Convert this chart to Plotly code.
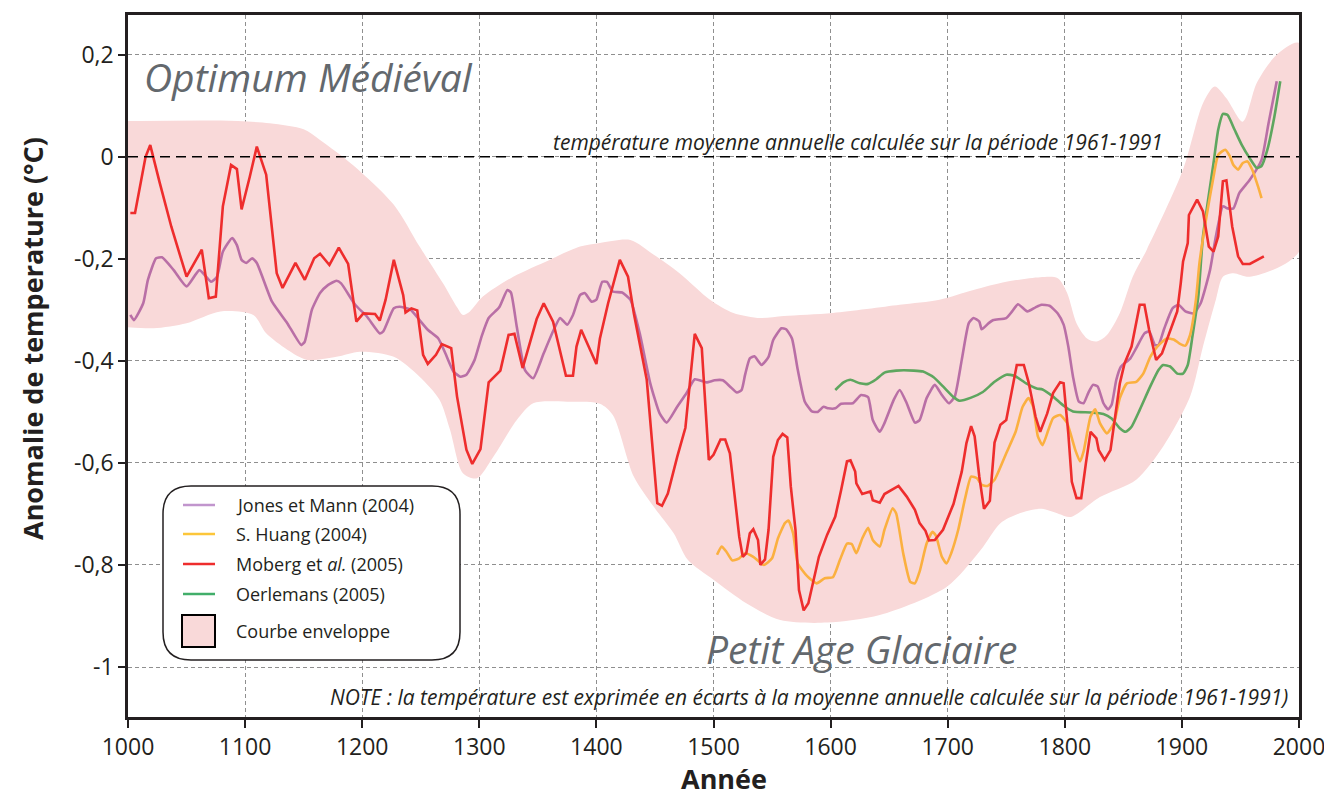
import plotly.graph_objects as go

# Moberg et al. (2005)
moberg_years = [1002, 1006, 1015, 1019, 1027, 1037, 1050, 1063, 1069, 1075, 1081, 1088, 1093, 1097, 1104, 1110,
                1118, 1127, 1132, 1143, 1151, 1159, 1164, 1172, 1180, 1188, 1195, 1201, 1211, 1215, 1220, 1227,
                1235, 1237, 1242, 1247, 1252, 1256, 1263, 1268, 1276, 1281, 1289, 1294, 1301, 1308, 1318, 1325,
                1330, 1337, 1349, 1355, 1363, 1374, 1380, 1383, 1387, 1400, 1403, 1410, 1420, 1427, 1432, 1443,
                1452, 1456, 1461, 1469, 1476, 1480, 1484, 1490, 1496, 1500, 1506, 1510, 1514, 1518, 1522, 1525,
                1528, 1531, 1534, 1538, 1540, 1544, 1547, 1551, 1555, 1559, 1563, 1566, 1570, 1573, 1577, 1581,
                1585, 1590, 1597, 1604, 1609, 1614, 1617, 1621, 1622, 1627, 1634, 1636, 1642, 1646, 1658, 1665,
                1672, 1676, 1681, 1684, 1689, 1696, 1705, 1712, 1716, 1720, 1723, 1727, 1731, 1736, 1740, 1745,
                1750, 1756, 1759, 1765, 1769, 1775, 1779, 1785, 1790, 1796, 1799, 1803, 1806, 1810, 1814, 1818,
                1822, 1827, 1829, 1834, 1839, 1843, 1847, 1851, 1857, 1864, 1868, 1872, 1878, 1883, 1890, 1896,
                1899, 1901, 1905, 1906, 1913, 1918, 1923, 1927, 1931, 1935, 1938, 1943, 1948, 1952, 1958, 1970]
moberg_vals = [-0.11, -0.11, 0.0, 0.023, -0.05, -0.137, -0.235, -0.182, -0.277, -0.274, -0.097, -0.016, -0.024,
               -0.103, -0.039, 0.02, -0.035, -0.228, -0.257, -0.208, -0.241, -0.199, -0.19, -0.212, -0.178, -0.21,
               -0.323, -0.307, -0.308, -0.321, -0.28, -0.202, -0.271, -0.305, -0.297, -0.301, -0.388, -0.406,
               -0.388, -0.367, -0.375, -0.47, -0.574, -0.602, -0.573, -0.442, -0.419, -0.349, -0.347, -0.414,
               -0.318, -0.287, -0.323, -0.429, -0.429, -0.372, -0.339, -0.406, -0.356, -0.287, -0.202, -0.235,
               -0.307, -0.437, -0.679, -0.684, -0.66, -0.588, -0.531, -0.431, -0.347, -0.375, -0.594, -0.584,
               -0.554, -0.554, -0.581, -0.663, -0.745, -0.784, -0.777, -0.738, -0.73, -0.751, -0.8, -0.789,
               -0.731, -0.588, -0.555, -0.543, -0.55, -0.646, -0.731, -0.849, -0.889, -0.875, -0.836, -0.784,
               -0.741, -0.705, -0.653, -0.597, -0.595, -0.617, -0.64, -0.661, -0.656, -0.673, -0.678, -0.661,
               -0.645, -0.666, -0.692, -0.718, -0.733, -0.752, -0.751, -0.731, -0.68, -0.617, -0.561, -0.528,
               -0.548, -0.627, -0.69, -0.674, -0.56, -0.525, -0.516, -0.444, -0.408, -0.408, -0.441, -0.509,
               -0.539, -0.503, -0.463, -0.442, -0.444, -0.542, -0.637, -0.669, -0.669, -0.601, -0.539, -0.552,
               -0.575, -0.594, -0.575, -0.509, -0.444, -0.405, -0.372, -0.29, -0.29, -0.339, -0.398, -0.385,
               -0.342, -0.303, -0.248, -0.205, -0.169, -0.114, -0.084, -0.107, -0.176, -0.186, -0.156, -0.048,
               -0.046, -0.137, -0.195, -0.21, -0.21, -0.195]

# Jones et Mann (2004)
jones_years = [1002, 1005, 1013, 1017, 1024, 1029, 1039, 1050, 1061, 1071, 1076, 1081, 1089, 1093, 1097, 1101,
               1106, 1110, 1123, 1136, 1148, 1151, 1157, 1164, 1171, 1178, 1182, 1194, 1204, 1215, 1218, 1227,
               1232, 1241, 1249, 1256, 1265, 1271, 1278, 1284, 1289, 1296, 1302, 1308, 1317, 1324, 1327, 1332,
               1339, 1346, 1355, 1363, 1369, 1375, 1380, 1386, 1390, 1396, 1400, 1405, 1409, 1414, 1422, 1429,
               1437, 1446, 1454, 1460, 1469, 1477, 1484, 1494, 1501, 1508, 1514, 1520, 1524, 1527, 1531, 1535,
               1541, 1547, 1551, 1558, 1562, 1567, 1572, 1578, 1584, 1589, 1594, 1598, 1604, 1609, 1619, 1626,
               1632, 1636, 1642, 1646, 1654, 1659, 1665, 1672, 1676, 1682, 1689, 1695, 1701, 1706, 1712, 1718,
               1722, 1727, 1729, 1735, 1739, 1750, 1755, 1760, 1768, 1775, 1780, 1787, 1794, 1799, 1803, 1807,
               1812, 1816, 1820, 1824, 1828, 1833, 1837, 1840, 1844, 1848, 1856, 1861, 1868, 1872, 1877, 1880,
               1885, 1892, 1897, 1903, 1910, 1916, 1924, 1929, 1935, 1939, 1944, 1949, 1958, 1968, 1974, 1981]
jones_vals = [-0.31, -0.32, -0.287, -0.241, -0.199, -0.197, -0.222, -0.254, -0.222, -0.245, -0.235, -0.186,
              -0.159, -0.173, -0.202, -0.208, -0.199, -0.208, -0.284, -0.326, -0.369, -0.362, -0.3, -0.267,
              -0.251, -0.243, -0.248, -0.29, -0.313, -0.346, -0.342, -0.297, -0.294, -0.299, -0.32, -0.339,
              -0.356, -0.385, -0.421, -0.431, -0.427, -0.398, -0.352, -0.316, -0.295, -0.261, -0.266, -0.333,
              -0.418, -0.434, -0.385, -0.342, -0.316, -0.329, -0.31, -0.271, -0.267, -0.284, -0.28, -0.245,
              -0.245, -0.264, -0.266, -0.28, -0.346, -0.444, -0.503, -0.521, -0.49, -0.463, -0.436, -0.442,
              -0.438, -0.438, -0.45, -0.462, -0.457, -0.427, -0.395, -0.391, -0.408, -0.392, -0.359, -0.336,
              -0.338, -0.356, -0.418, -0.48, -0.499, -0.5, -0.49, -0.493, -0.493, -0.484, -0.483, -0.467,
              -0.471, -0.516, -0.539, -0.522, -0.476, -0.457, -0.483, -0.521, -0.516, -0.473, -0.447, -0.467,
              -0.483, -0.47, -0.398, -0.326, -0.316, -0.323, -0.338, -0.326, -0.32, -0.316, -0.303, -0.289,
              -0.303, -0.295, -0.29, -0.292, -0.307, -0.329, -0.372, -0.431, -0.48, -0.483, -0.463, -0.447,
              -0.45, -0.483, -0.495, -0.486, -0.437, -0.411, -0.395, -0.375, -0.346, -0.342, -0.369, -0.369,
              -0.336, -0.297, -0.29, -0.303, -0.307, -0.287, -0.222, -0.156, -0.097, -0.101, -0.101, -0.071,
              -0.045, -0.006, 0.066, 0.148]

# S. Huang (2004)
huang_years = [1503, 1507, 1511, 1516, 1522, 1527, 1534, 1543, 1550, 1555, 1561, 1564, 1568, 1572, 1580, 1588,
               1595, 1602, 1608, 1614, 1618, 1622, 1627, 1632, 1636, 1642, 1646, 1653, 1656, 1662, 1668, 1672,
               1676, 1682, 1687, 1690, 1695, 1699, 1703, 1709, 1715, 1720, 1725, 1729, 1734, 1740, 1750, 1758,
               1764, 1769, 1773, 1777, 1781, 1786, 1790, 1796, 1802, 1809, 1813, 1816, 1822, 1826, 1830, 1836,
               1842, 1847, 1853, 1861, 1867, 1873, 1879, 1887, 1893, 1898, 1903, 1907, 1912, 1915, 1921, 1927,
               1931, 1937, 1941, 1944, 1948, 1952, 1956, 1960, 1965, 1968]
huang_vals = [-0.78, -0.764, -0.774, -0.791, -0.787, -0.777, -0.784, -0.8, -0.787, -0.748, -0.718, -0.713,
              -0.738, -0.797, -0.822, -0.836, -0.826, -0.824, -0.79, -0.758, -0.759, -0.777, -0.748, -0.727,
              -0.751, -0.764, -0.731, -0.689, -0.699, -0.777, -0.833, -0.836, -0.813, -0.758, -0.735, -0.743,
              -0.784, -0.797, -0.777, -0.731, -0.668, -0.627, -0.63, -0.643, -0.645, -0.633, -0.581, -0.539,
              -0.49, -0.473, -0.49, -0.548, -0.565, -0.535, -0.512, -0.506, -0.522, -0.575, -0.597, -0.578,
              -0.509, -0.495, -0.522, -0.542, -0.522, -0.473, -0.444, -0.441, -0.425, -0.392, -0.372, -0.356,
              -0.358, -0.366, -0.37, -0.349, -0.28, -0.208, -0.117, -0.039, 0.004, 0.014, 0.001, -0.016,
              -0.025, -0.012, -0.009, -0.025, -0.058, -0.081]

# Oerlemans (2005)
oerlemans_years = [1604, 1611, 1617, 1625, 1632, 1639, 1646, 1656, 1671, 1679, 1688, 1696, 1705, 1710, 1720,
                   1730, 1740, 1750, 1757, 1767, 1776, 1781, 1790, 1799, 1807, 1822, 1833, 1840, 1847, 1852,
                   1857, 1864, 1873, 1880, 1884, 1890, 1896, 1901, 1905, 1909, 1914, 1918, 1927, 1931, 1935,
                   1939, 1945, 1951, 1958, 1964, 1968, 1973, 1979, 1984]
oerlemans_vals = [-0.457, -0.442, -0.437, -0.444, -0.445, -0.436, -0.423, -0.419, -0.419, -0.421, -0.432,
                  -0.45, -0.471, -0.478, -0.472, -0.461, -0.441, -0.427, -0.429, -0.444, -0.454, -0.456, -0.47,
                  -0.488, -0.499, -0.501, -0.504, -0.513, -0.532, -0.539, -0.529, -0.496, -0.45, -0.418,
                  -0.408, -0.411, -0.425, -0.425, -0.408, -0.352, -0.274, -0.156, -0.012, 0.053, 0.084, 0.082,
                  0.053, 0.024, -0.003, -0.022, -0.018, 0.014, 0.079, 0.148]

# Courbe enveloppe
env_upper_years = [1000, 1079, 1121, 1150, 1164, 1192, 1227, 1249, 1269, 1281, 1286, 1292, 1303, 1329, 1360,
                   1386, 1403, 1429, 1449, 1471, 1497, 1517, 1540, 1560, 1602, 1659, 1693, 1722, 1750, 1779,
                   1794, 1802, 1810, 1819, 1827, 1836, 1847, 1858, 1870, 1901, 1918, 1928, 1938, 1952, 1964,
                   1981, 2000]
env_upper_vals = [0.07, 0.071, 0.066, 0.054, 0.033, -0.016, -0.094, -0.176, -0.248, -0.295, -0.31, -0.303,
                  -0.274, -0.235, -0.202, -0.176, -0.169, -0.163, -0.192, -0.228, -0.28, -0.306, -0.316,
                  -0.312, -0.306, -0.29, -0.28, -0.261, -0.245, -0.236, -0.238, -0.267, -0.326, -0.356,
                  -0.362, -0.349, -0.306, -0.235, -0.182, -0.025, 0.105, 0.138, 0.115, 0.069, 0.145, 0.2, 0.223]
env_lower_years = [1000, 1022, 1050, 1079, 1107, 1118, 1136, 1153, 1178, 1198, 1227, 1249, 1266, 1275, 1286,
                   1298, 1312, 1332, 1346, 1375, 1403, 1414, 1432, 1449, 1466, 1478, 1500, 1528, 1557, 1597,
                   1642, 1699, 1728, 1745, 1760, 1780, 1795, 1805, 1830, 1861, 1884, 1907, 1918, 1929, 1935,
                   1944, 1958, 2000]
env_lower_vals = [-0.334, -0.336, -0.326, -0.303, -0.31, -0.346, -0.378, -0.398, -0.392, -0.382, -0.392,
                  -0.431, -0.476, -0.535, -0.62, -0.63, -0.588, -0.516, -0.483, -0.48, -0.484, -0.506,
                  -0.627, -0.686, -0.738, -0.79, -0.829, -0.875, -0.908, -0.913, -0.898, -0.843, -0.771,
                  -0.718, -0.7, -0.69, -0.7, -0.706, -0.667, -0.633, -0.568, -0.47, -0.372, -0.28, -0.235,
                  -0.228, -0.235, -0.186]

x_ticks = [1000, 1100, 1200, 1300, 1400, 1500, 1600, 1700, 1800, 1900, 2000]
y_ticks = [0.2, 0, -0.2, -0.4, -0.6, -0.8, -1]
y_tick_labels = ["0,2", "0", "-0,2", "-0,4", "-0,6", "-0,8", "-1"]

legend_labels = ["Jones et Mann (2004)", "S. Huang (2004)", "Moberg et <i>al.</i> (2005)",
                 "Oerlemans (2005)", "Courbe enveloppe"]

PURPLE = "#b96fa6"
ORANGE = "#fbb040"
RED = "#ee2d2d"
GREEN = "#5ea65f"
PINK = "#f9d9d9"
GREY_TXT = "#63686d"
FONT = "Open Sans"

# plot area in pixels (1324 x 797 page)
L, R, T, B = 128, 1299, 15, 717


def px(x):
    return (x - L) / (R - L)


def py(y):
    return (B - y) / (B - T)


fig = go.Figure()

fig.add_trace(go.Scatter(
    x=env_upper_years + env_lower_years[::-1],
    y=env_upper_vals + env_lower_vals[::-1],
    fill="toself", fillcolor=PINK, mode="lines",
    line=dict(width=0, shape="spline", smoothing=0.8),
    hoverinfo="skip", showlegend=False))

fig.add_shape(type="line", x0=1000, x1=2000, y0=0, y1=0, xref="x", yref="y",
              line=dict(color="black", width=1.5, dash="10px,6px"))

fig.add_trace(go.Scatter(x=jones_years, y=jones_vals, mode="lines", showlegend=False,
                         line=dict(color=PURPLE, width=2.6, shape="spline", smoothing=0.5)))
fig.add_trace(go.Scatter(x=oerlemans_years, y=oerlemans_vals, mode="lines", showlegend=False,
                         line=dict(color=GREEN, width=2.6, shape="spline", smoothing=0.5)))
fig.add_trace(go.Scatter(x=huang_years, y=huang_vals, mode="lines", showlegend=False,
                         line=dict(color=ORANGE, width=2.6, shape="spline", smoothing=0.5)))
fig.add_trace(go.Scatter(x=moberg_years, y=moberg_vals, mode="lines", showlegend=False,
                         line=dict(color=RED, width=2.6)))

# legend box (rounded)
bx0, bx1, by0, by1, rad = 163, 460, 486, 660, 28
rx, ry = rad / (R - L), rad / (B - T)
path = (f"M {px(bx0) + rx} {py(by0)} L {px(bx1) - rx} {py(by0)} Q {px(bx1)} {py(by0)} {px(bx1)} {py(by0) - ry} "
        f"L {px(bx1)} {py(by1) + ry} Q {px(bx1)} {py(by1)} {px(bx1) - rx} {py(by1)} "
        f"L {px(bx0) + rx} {py(by1)} Q {px(bx0)} {py(by1)} {px(bx0)} {py(by1) + ry} "
        f"L {px(bx0)} {py(by0) - ry} Q {px(bx0)} {py(by0)} {px(bx0) + rx} {py(by0)} Z")
fig.add_shape(type="path", path=path, xref="paper", yref="paper",
              fillcolor="white", line=dict(color="#231f20", width=1.5), layer="above")

legend_colors = ["#c195cd", "#fcc63a", RED, "#42ae6a"]
row_y = [505, 534, 564, 594, 631]
for c, yy in zip(legend_colors, row_y):
    fig.add_shape(type="line", xref="paper", yref="paper", x0=px(183), x1=px(215), y0=py(yy), y1=py(yy),
                  line=dict(color=c, width=2.5), layer="above")
fig.add_shape(type="rect", xref="paper", yref="paper", x0=px(182), x1=px(215), y0=py(647), y1=py(615),
              fillcolor=PINK, line=dict(color="black", width=2), layer="above")
for lab, yy in zip(legend_labels, row_y):
    fig.add_annotation(text=lab, xref="paper", yref="paper", x=px(234), y=py(yy), xanchor="left",
                       yanchor="middle", showarrow=False, font=dict(family=FONT, size=18, color="#231f20"))

# texts
fig.add_annotation(text="<i>Optimum Médiéval</i>", xref="paper", yref="paper", x=px(142), y=py(77),
                   xanchor="left", yanchor="middle", showarrow=False,
                   font=dict(family=FONT, size=39, color=GREY_TXT))
fig.add_annotation(text="<i>Petit Age Glaciaire</i>", xref="paper", yref="paper", x=px(704), y=py(648),
                   xanchor="left", yanchor="middle", showarrow=False,
                   font=dict(family=FONT, size=39, color=GREY_TXT))
fig.add_annotation(text="<i>température moyenne annuelle calculée sur la période 1961-1991</i>",
                   xref="paper", yref="paper", x=px(1165), y=py(142), xanchor="right", yanchor="middle",
                   showarrow=False, font=dict(family=FONT, size=21, color="#231f20"))
fig.add_annotation(text="<i>NOTE : la température est exprimée en écarts à la moyenne annuelle calculée "
                        "sur la période 1961-1991)</i>",
                   xref="paper", yref="paper", x=px(1290), y=py(697), xanchor="right", yanchor="middle",
                   showarrow=False, font=dict(family=FONT, size=21, color="#231f20"))
fig.add_annotation(text="<b>Année</b>", xref="paper", yref="paper", x=px(724), y=py(778),
                   xanchor="center", yanchor="middle", showarrow=False,
                   font=dict(family=FONT, size=27, color="#231f20"))
fig.add_annotation(text="<b>Anomalie de temperature (°C)</b>", xref="paper", yref="paper", x=px(32),
                   y=py(339), xanchor="center", yanchor="middle", textangle=-90, showarrow=False,
                   font=dict(family=FONT, size=27, color="#231f20"))

grid = dict(showgrid=True, gridcolor="#8f8f8f", gridwidth=1, griddash="4px,3px")
fig.update_layout(
    width=1324, height=797,
    margin=dict(l=L, r=1324 - R, t=T, b=797 - B, autoexpand=False),
    paper_bgcolor="white", plot_bgcolor="white",
    showlegend=False,
    font=dict(family=FONT, color="#231f20"),
    xaxis=dict(range=[1000, 2000], tickvals=x_ticks, showline=True, mirror=True, linecolor="#231f20",
               linewidth=2.5, ticks="outside", ticklen=8, tickwidth=2, tickcolor="#231f20",
               tickfont=dict(size=23), ticklabeloverflow="allow", automargin=False, zeroline=False, **grid),
    yaxis=dict(range=[-1.098, 0.278], tickvals=y_ticks, ticktext=y_tick_labels, showline=True, mirror=True,
               linecolor="#231f20", linewidth=2.5, ticks="outside", ticklen=7, tickwidth=2,
               tickcolor="#231f20", tickfont=dict(size=23), automargin=False, zeroline=False, **grid),
)

fig.write_html("out.html", config={"displayModeBar": False},
               post_script="document.body.style.margin='0';")
